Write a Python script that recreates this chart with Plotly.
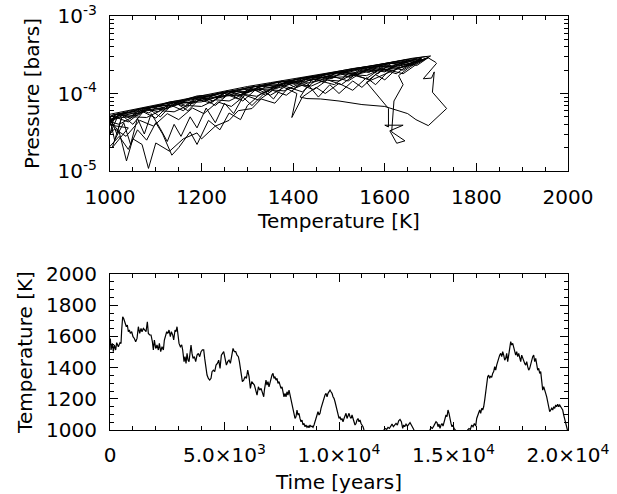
import plotly.graph_objects as go

# ---------------- bottom panel: temperature vs time ----------------
time_years = [
    15, 44, 102, 146, 190, 248, 292, 364, 437, 481, 510, 554, 597, 656, 714, 758, 801, 845, 889, 947,
    1005, 1063, 1122, 1180, 1238, 1296, 1354, 1398, 1456, 1515, 1573, 1631, 1675, 1733, 1791, 1850, 1893, 1937, 1995,
    2053, 2112, 2155, 2214, 2272, 2330, 2374, 2417, 2476, 2519, 2578, 2636, 2679, 2738, 2781, 2840, 2883, 2927, 2971,
    3014, 3073, 3131, 3174, 3233, 3276, 3320, 3364, 3407, 3451, 3495, 3538, 3582, 3626, 3684, 3742, 3801, 3859, 3917, 3975,
    4034, 4092, 4135, 4179, 4237, 4296, 4354, 4412, 4456, 4514, 4572, 4630, 4689, 4747, 4805, 4863, 4922, 4965,
    5024, 5082, 5140, 5198, 5257, 5315, 5373, 5431, 5490, 5548, 5606, 5650, 5693, 5737, 5781, 5839, 5897, 5955,
    6014, 6072, 6130, 6188, 6247, 6305, 6363, 6421, 6480, 6538, 6596, 6654, 6713, 6742,
    6768, 6812, 6856, 6899, 6943, 6987, 7030, 7074, 7118, 7162, 7205, 7249, 7293, 7336, 7380, 7424, 7467, 7511, 7555, 7598,
    7642, 7686, 7729, 7773, 7817, 7860, 7904, 7948, 7991, 8035, 8079, 8122, 8166, 8210, 8253, 8297, 8341, 8385, 8428, 8472,
    8516, 8559, 8603, 8647, 8690, 8734, 8778, 8821, 8865, 8909, 8952, 8996, 9040, 9083, 9127, 9171, 9214, 9258, 9302, 9346,
    9389, 9433, 9477, 9520, 9564, 9608, 9651, 9695, 9739, 9782, 9826, 9870, 9913, 9957, 10001, 10044, 10088, 10132, 10175, 10219,
    10263, 10306, 10350, 10394, 10438, 10481, 10525, 10569, 10612, 10656, 10700, 10743, 10787, 10831, 10874, 10918, 10962, 11005, 11049, 11093, 11136,
    11200, 11300, 11400, 11500, 11600, 11700, 11800, 11900,
    11966, 12025, 12083, 12141, 12199, 12258, 12316, 12374, 12432, 12490, 12549, 12607, 12665, 12723, 12782, 12825, 12869, 12927, 12986, 13044, 13102, 13160, 13218, 13277,
    13350, 13450, 13550, 13650, 13750, 13850, 13930,
    13974, 14018, 14076, 14134, 14193, 14236, 14280, 14324, 14367, 14411, 14455, 14498, 14542, 14586, 14629, 14673, 14717, 14760, 14804, 14848, 14891, 14935, 14979, 15023, 15066, 15139,
    15250, 15350, 15450, 15550,
    15619, 15678, 15736, 15794, 15852, 15911, 15969, 16013, 16056, 16100, 16144, 16187, 16231, 16275, 16318, 16362, 16406, 16449, 16493, 16537,
    16580, 16624, 16668, 16711, 16755, 16799, 16843, 16886, 16930, 16974, 17017, 17061, 17105, 17148, 17192, 17236, 17279, 17323, 17367, 17410,
    17454, 17498, 17541, 17585, 17629, 17672, 17716, 17760, 17803, 17847, 17891, 17935, 17978, 18022, 18066, 18109, 18153, 18197, 18240, 18284,
    18328, 18371, 18415, 18459, 18502, 18546, 18590, 18633, 18677, 18721, 18764, 18808, 18852, 18895, 18939, 18983, 19026, 19070, 19114, 19157,
    19201, 19245, 19289, 19332, 19376, 19420, 19463, 19507, 19551, 19594, 19638, 19682, 19725, 19769, 19813, 19856, 19900, 19944, 19973, 20000,
]
temperature_K = [
    1587, 1513, 1555, 1502, 1545, 1513, 1560, 1534, 1560, 1555, 1641, 1726, 1715, 1694, 1662, 1673, 1630, 1641, 1619, 1630,
    1598, 1587, 1566, 1587, 1662, 1619, 1651, 1630, 1651, 1641, 1630, 1694, 1619, 1609, 1609, 1566, 1513, 1577, 1523,
    1545, 1513, 1555, 1502, 1534, 1513, 1577, 1609, 1630, 1619, 1641, 1598, 1630, 1609, 1577, 1641, 1630, 1662, 1619,
    1555, 1534, 1545, 1513, 1438, 1470, 1427, 1491, 1448, 1438, 1480, 1545, 1491, 1459, 1470, 1438, 1480, 1491, 1470, 1502,
    1513, 1513, 1459, 1406, 1352, 1331, 1320, 1331, 1374, 1384, 1374, 1416, 1427, 1448, 1395, 1480, 1491, 1502,
    1459, 1416, 1438, 1448, 1427, 1480, 1523, 1502, 1502, 1480, 1470, 1438, 1384, 1331, 1310, 1320, 1342, 1331,
    1384, 1342, 1267, 1310, 1299, 1288, 1256, 1224, 1277, 1256, 1267, 1245, 1213, 1256,
    1299, 1320, 1288, 1310, 1277, 1310, 1331, 1352, 1363, 1331, 1342, 1320, 1331, 1299, 1310, 1288, 1267, 1277, 1245, 1213,
    1235, 1213, 1245, 1224, 1256, 1224, 1213, 1171, 1149, 1117, 1074, 1085, 1128, 1096, 1107, 1074, 1053, 1064, 1032, 1042,
    1021, 1032, 1017, 1025, 1015, 1032, 1021, 1025, 1017, 1032, 1053, 1074, 1096, 1117, 1096, 1107, 1139, 1160, 1192, 1213,
    1224, 1235, 1213, 1235, 1245, 1256, 1245, 1235, 1213, 1203, 1181, 1149, 1128, 1107, 1074, 1085, 1064, 1074, 1053, 1074,
    1096, 1107, 1074, 1096, 1107, 1085, 1074, 1096, 1064, 1053, 1032, 1042, 1064, 1074, 1053, 1064, 1042, 1032, 1021, 1000, 978,
    965, 950, 940, 955, 945, 960, 975, 985,
    1000, 1010, 1004, 1017, 1010, 1025, 1038, 1021, 1032, 1042, 1032, 1059, 1068, 1053, 1010, 1032, 1021, 1038, 1025, 1038, 1047, 1032, 1010, 1000,
    985, 970, 960, 972, 965, 980, 992,
    1000, 1017, 1010, 1025, 1042, 1053, 1047, 1021, 1038, 1010, 1032, 1042, 1025, 1053, 1074, 1096, 1085, 1128, 1107, 1064, 1042, 1021, 1032, 1010, 1000, 989,
    970, 958, 972, 985,
    1000, 1010, 1004, 1032, 1021, 1042, 1025, 1074, 1096, 1117, 1128, 1107, 1139, 1128, 1149, 1192, 1235, 1299, 1342, 1352,
    1331, 1346, 1337, 1363, 1374, 1406, 1384, 1416, 1448, 1459, 1480, 1491, 1470, 1502, 1480, 1448, 1459, 1491, 1438, 1470,
    1523, 1566, 1545, 1555, 1523, 1513, 1480, 1502, 1470, 1491, 1459, 1438, 1480, 1459, 1448, 1427, 1416, 1438, 1406, 1384,
    1395, 1427, 1459, 1470, 1480, 1438, 1459, 1416, 1384, 1395, 1363, 1374, 1310, 1256, 1277, 1245, 1235, 1213, 1171, 1139,
    1117, 1128, 1139, 1128, 1149, 1139, 1160, 1149, 1166, 1149, 1160, 1149, 1139, 1128, 1096, 1074, 1042, 1032, 1010, 985,
]

# ---------------- top panel: pressure vs temperature ----------------
pt_temperature = [
    1000, 1050, 1100, 1150, 1200, 1250, 1300, 1350, 1400, 1450, 1500, 1550, 1600, 1650, 1690,
    1710, 1713, 1684, 1702, 1708, 1704, 1735, 1695, 1668, 1650,
    1600, 1550, 1500, 1460, 1430, 1415,
    1440, 1480, 1520, 1560, 1600, 1640, 1670, 1695,
    1660, 1620, 1580, 1540, 1500, 1460, 1420, 1380, 1340, 1300, 1260, 1220, 1180, 1140, 1100, 1060, 1030, 1000,
    1020, 1036, 1050, 1070, 1084, 1100, 1130, 1160, 1190, 1200, 1230,
    1260, 1280, 1310, 1330, 1360, 1390, 1420, 1450, 1490, 1520, 1560, 1600, 1640, 1680,
    1560, 1608, 1608, 1600, 1640, 1611, 1626, 1644, 1615,
    1620, 1640, 1630, 1650, 1680,
    1640, 1600, 1560, 1520, 1480, 1440, 1400, 1360, 1320, 1280, 1240, 1200, 1160, 1120, 1080, 1040, 1000,
    1010, 1030, 1045, 1060, 1075, 1090, 1110, 1125, 1140, 1155, 1175, 1190, 1210, 1230, 1250, 1270, 1290, 1310, 1340, 1357, 1380,
    1420, 1460, 1500, 1540, 1580, 1620, 1660, 1700,
    1670, 1640, 1610, 1580, 1560, 1530, 1500, 1470, 1450, 1420, 1397, 1408, 1380, 1350, 1320, 1290, 1260, 1230, 1200, 1170, 1140, 1110, 1080, 1050, 1020, 1000,
    1010, 1040, 1070, 1100, 1130, 1160, 1190, 1220, 1250, 1280, 1310, 1340, 1370, 1400, 1430, 1460, 1490, 1520, 1550, 1580, 1610, 1640, 1670,
    1630, 1590, 1550, 1510, 1470, 1430, 1390, 1350, 1310, 1270, 1230, 1190, 1150, 1110, 1070, 1030, 1000,
    1015, 1025, 1005, 1040,
    990, 1030, 1060, 1090, 1120, 1150, 1180, 1210, 1240, 1270, 1300, 1330, 1360, 1390, 1420, 1450, 1480, 1510, 1540, 1570, 1600, 1630, 1660, 1690,
    1675, 1645, 1615, 1585, 1555, 1525, 1495, 1465, 1435, 1405, 1375, 1345, 1315, 1285, 1255, 1225, 1195, 1165, 1135, 1105, 1075, 1045, 1015, 985,
    980, 1010, 1035, 1065, 1095, 1125, 1150, 1180, 1205, 1235, 1265, 1295, 1325, 1355, 1385, 1415, 1445, 1475, 1505, 1535, 1565, 1595, 1625, 1655, 1685,
    1665, 1635, 1605, 1575, 1545, 1515, 1485, 1455, 1425, 1395, 1365, 1335, 1305, 1275, 1245, 1215, 1185, 1155, 1125, 1095, 1065, 1035, 1005, 975,
    990, 1020, 1040, 1060, 1080, 1100, 1115, 1135, 1150, 1175, 1190, 1215, 1240, 1260, 1285, 1300, 1330, 1370, 1410, 1450, 1490, 1530, 1570, 1610, 1650,
    1630, 1600, 1580, 1550, 1530, 1500, 1480, 1455, 1430, 1400, 1370, 1340, 1310, 1280, 1250, 1220, 1190, 1160, 1130, 1100, 1070, 1040, 1010, 970,
    1000, 1040, 1080, 1120, 1160, 1200, 1240, 1280, 1320, 1360, 1400, 1440, 1480, 1520, 1560, 1600, 1640, 1680,
    1650, 1620, 1590, 1560, 1530, 1500, 1470, 1440, 1410, 1380, 1350, 1320, 1290, 1260, 1230, 1200, 1170, 1140, 1110, 1080, 1050, 1020, 990,
    1005, 1025, 1045, 1065, 1085, 1105, 1125, 1145, 1165, 1185, 1205, 1225, 1245, 1265, 1285, 1305, 1325, 1345, 1365, 1385, 1405, 1425, 1445, 1465, 1485, 1505, 1525, 1545, 1565, 1585, 1605, 1625, 1645, 1665,
    1640, 1615, 1590, 1565, 1540, 1515, 1490, 1465, 1440, 1415, 1390, 1365, 1340, 1315, 1290, 1265, 1240, 1215, 1190, 1165, 1140, 1115, 1090, 1065, 1040, 1015, 985,
]
pt_pressure_bars = [
    5.4e-5, 6.2e-5, 7.2e-5, 8.3e-5, 9.5e-5, 1.08e-4, 1.23e-4, 1.38e-4, 1.55e-4, 1.74e-4, 1.95e-4, 2.18e-4, 2.45e-4, 2.72e-4, 3.0e-4,
    2.55e-4, 2.45e-4, 1.55e-4, 1.58e-4, 1.9e-4, 1.04e-4, 6.4e-5, 3.85e-5, 4.6e-5, 5.5e-5,
    6.8e-5, 7.2e-5, 8.0e-5, 8.5e-5, 8.6e-5, 9.0e-5,
    1.5e-4, 1.7e-4, 1.45e-4, 2.05e-4, 1.9e-4, 2.55e-4, 2.3e-4, 2.9e-4,
    2.5e-4, 2.2e-4, 2.25e-4, 1.8e-4, 1.9e-4, 1.5e-4, 1.55e-4, 1.25e-4, 1.3e-4, 1.05e-4, 1.06e-4, 8.5e-5, 8.8e-5, 7.0e-5, 7.0e-5, 5.5e-5, 5.7e-5, 4.5e-5,
    3.2e-5, 1.35e-5, 2.6e-5, 2.2e-5, 1.08e-5, 2.3e-5, 1.8e-5, 2.6e-5, 3.1e-5, 2.6e-5, 3.8e-5,
    4.5e-5, 6.0e-5, 6.4e-5, 8.5e-5, 7.5e-5, 1.2e-4, 1.05e-4, 1.5e-4, 1.3e-4, 1.8e-4, 1.55e-4, 2.3e-4, 2.0e-4, 2.85e-4,
    1.4e-4, 6.4e-5, 3.7e-5, 3.9e-5, 3.9e-5, 3.3e-5, 2.28e-5, 2.45e-5, 3.2e-5,
    8.0e-5, 1.3e-4, 1.7e-4, 2.1e-4, 2.75e-4,
    2.2e-4, 2.05e-4, 1.9e-4, 1.65e-4, 1.6e-4, 1.38e-4, 1.35e-4, 1.15e-4, 1.12e-4, 9.5e-5, 9.2e-5, 7.8e-5, 7.6e-5, 6.3e-5, 6.0e-5, 5.0e-5, 4.7e-5,
    2.5e-5, 4.2e-5, 2.2e-5, 4.8e-5, 3.0e-5, 5.5e-5, 3.5e-5, 2.4e-5, 4.0e-5, 2.8e-5, 5.0e-5, 3.6e-5, 6.5e-5, 4.2e-5, 7.5e-5, 5.5e-5, 9.0e-5, 7.0e-5, 1.05e-4, 8.5e-5, 1.3e-4,
    1.5e-4, 1.72e-4, 1.88e-4, 2.12e-4, 2.32e-4, 2.6e-4, 2.85e-4, 3.05e-4,
    2.4e-4, 1.8e-4, 2.0e-4, 1.3e-4, 1.6e-4, 1.1e-4, 1.35e-4, 1.0e-4, 1.2e-4, 9.0e-5, 4.9e-5, 1.0e-4, 1.2e-4, 9.5e-5, 1.15e-4, 8.0e-5, 1.0e-4, 7.0e-5, 9.0e-5, 6.0e-5, 7.8e-5, 5.0e-5, 6.6e-5, 4.0e-5, 5.6e-5, 3.0e-5,
    5.3e-5, 5.6e-5, 6.4e-5, 6.8e-5, 7.8e-5, 8.2e-5, 9.3e-5, 9.6e-5, 1.05e-4, 1.12e-4, 1.22e-4, 1.3e-4, 1.42e-4, 1.48e-4, 1.62e-4, 1.68e-4, 1.85e-4, 1.95e-4, 2.1e-4, 2.2e-4, 2.45e-4, 2.55e-4, 2.8e-4,
    2.3e-4, 2.1e-4, 1.95e-4, 1.75e-4, 1.62e-4, 1.45e-4, 1.38e-4, 1.2e-4, 1.12e-4, 9.8e-5, 9.0e-5, 8.0e-5, 7.4e-5, 6.5e-5, 6.0e-5, 5.2e-5, 5.0e-5,
    3.0e-5, 4.8e-5, 2.0e-5, 3.6e-5,
    4.0e-5, 5.3e-5, 5.2e-5, 6.6e-5, 6.3e-5, 7.8e-5, 7.4e-5, 9.1e-5, 8.8e-5, 1.07e-4, 1.02e-4, 1.25e-4, 1.18e-4, 1.43e-4, 1.35e-4, 1.65e-4, 1.55e-4, 1.88e-4, 1.75e-4, 2.15e-4, 1.95e-4, 2.45e-4, 2.3e-4, 2.85e-4,
    2.6e-4, 2.2e-4, 2.5e-4, 1.8e-4, 2.15e-4, 1.6e-4, 1.9e-4, 1.4e-4, 1.65e-4, 1.2e-4, 1.45e-4, 1.05e-4, 1.25e-4, 9.2e-5, 1.08e-4, 8.0e-5, 9.2e-5, 6.8e-5, 7.7e-5, 5.8e-5, 6.5e-5, 4.8e-5, 5.5e-5, 3.5e-5,
    2.2e-5, 3.5e-5, 2.8e-5, 4.5e-5, 3.8e-5, 5.5e-5, 4.6e-5, 6.5e-5, 5.5e-5, 7.8e-5, 6.8e-5, 9.5e-5, 8.2e-5, 1.1e-4, 9.5e-5, 1.3e-4, 1.12e-4, 1.5e-4, 1.3e-4, 1.75e-4, 1.5e-4, 2.05e-4, 1.8e-4, 2.4e-4, 2.7e-4,
    2.72e-4, 2.5e-4, 2.4e-4, 2.18e-4, 2.1e-4, 1.9e-4, 1.83e-4, 1.65e-4, 1.6e-4, 1.45e-4, 1.4e-4, 1.25e-4, 1.21e-4, 1.08e-4, 1.03e-4, 9.2e-5, 8.9e-5, 7.9e-5, 7.5e-5, 6.6e-5, 6.3e-5, 5.6e-5, 5.3e-5, 3.0e-5,
    1.8e-5, 2.8e-5, 1.9e-5, 3.4e-5, 2.5e-5, 4.2e-5, 3.0e-5, 1.6e-5, 2.0e-5, 3.2e-5, 2.2e-5, 4.5e-5, 3.4e-5, 5.6e-5, 4.6e-5, 7.0e-5, 1.0e-4, 1.3e-4, 1.55e-4, 1.7e-4, 1.9e-4, 2.1e-4, 2.25e-4, 2.5e-4, 2.75e-4,
    2.2e-4, 1.5e-4, 1.75e-4, 1.2e-4, 1.45e-4, 1.0e-4, 1.3e-4, 9.0e-5, 1.35e-4, 1.15e-4, 1.3e-4, 9.5e-5, 1.15e-4, 8.5e-5, 1.0e-4, 7.5e-5, 8.5e-5, 6.0e-5, 7.2e-5, 4.8e-5, 5.9e-5, 4.3e-5, 5.0e-5, 2.5e-5,
    5.1e-5, 5.9e-5, 6.6e-5, 7.3e-5, 8.2e-5, 9.1e-5, 1.0e-4, 1.12e-4, 1.24e-4, 1.35e-4, 1.5e-4, 1.65e-4, 1.78e-4, 1.95e-4, 2.12e-4, 2.35e-4, 2.55e-4, 2.85e-4,
    2.3e-4, 2.0e-4, 2.05e-4, 1.7e-4, 1.75e-4, 1.45e-4, 1.5e-4, 1.25e-4, 1.3e-4, 1.08e-4, 1.12e-4, 9.2e-5, 9.8e-5, 8.0e-5, 8.3e-5, 6.8e-5, 7.0e-5, 5.8e-5, 6.0e-5, 4.9e-5, 5.0e-5, 4.0e-5, 4.5e-5,
    4.6e-5, 5.4e-5, 5.0e-5, 6.2e-5, 5.6e-5, 6.9e-5, 6.3e-5, 7.8e-5, 7.0e-5, 8.6e-5, 7.9e-5, 9.5e-5, 8.7e-5, 1.06e-4, 9.6e-5, 1.17e-4, 1.07e-4, 1.29e-4, 1.18e-4, 1.42e-4, 1.3e-4, 1.55e-4, 1.42e-4, 1.7e-4, 1.56e-4, 1.85e-4, 1.7e-4, 2.02e-4, 1.86e-4, 2.2e-4, 2.02e-4, 2.4e-4, 2.2e-4, 2.65e-4,
    2.45e-4, 2.3e-4, 2.25e-4, 2.05e-4, 2.0e-4, 1.85e-4, 1.78e-4, 1.62e-4, 1.6e-4, 1.45e-4, 1.42e-4, 1.3e-4, 1.27e-4, 1.15e-4, 1.12e-4, 1.02e-4, 9.9e-5, 9.0e-5, 8.7e-5, 7.9e-5, 7.6e-5, 6.9e-5, 6.6e-5, 6.0e-5, 5.7e-5, 5.1e-5, 3.2e-5,
]

# tick labels
p_tickvals = [1e-5, 1e-4, 1e-3]
p_ticktext = ["10<sup>-5</sup>", "10<sup>-4</sup>", "10<sup>-3</sup>"]
p_minor = [m * 10 ** e for e in (-5, -4) for m in range(2, 10)]
t_tickvals = [1000, 1200, 1400, 1600, 1800, 2000]
time_tickvals = [0, 5000, 10000, 15000, 20000]
time_ticktext = ["0", "5.0×10<sup>3</sup>", "1.0×10<sup>4</sup>", "1.5×10<sup>4</sup>", "2.0×10<sup>4</sup>"]

FONT = dict(family="DejaVu Sans", size=20, color="black")

fig = go.Figure()
fig.add_trace(go.Scatter(x=pt_temperature, y=pt_pressure_bars, mode="lines",
                         line=dict(color="black", width=1), xaxis="x", yaxis="y",
                         showlegend=False, hoverinfo="skip"))
fig.add_trace(go.Scatter(x=time_years, y=temperature_K, mode="lines",
                         line=dict(color="black", width=1.2), xaxis="x2", yaxis="y2",
                         showlegend=False, hoverinfo="skip"))

axis_common = dict(showline=True, linecolor="black", linewidth=1, mirror="ticks",
                   ticks="inside", ticklen=8, tickwidth=1, tickcolor="black",
                   showgrid=False, zeroline=False, tickfont=FONT, automargin=False)

fig.update_layout(
    width=617, height=494,
    margin=dict(l=110, r=49, t=16, b=64),
    paper_bgcolor="white", plot_bgcolor="white",
    font=FONT,
    xaxis=dict(domain=[0, 1], anchor="y", range=[1000, 2000], tickvals=t_tickvals,
               minor=dict(dtick=50, ticks="inside", ticklen=4, tickcolor="black"),
               ticklabelstandoff=8,
               title=dict(text="Temperature [K]", font=FONT, standoff=4), **axis_common),
    yaxis=dict(domain=[0.6256, 1], anchor="x", type="log", range=[-5, -3],
               tickvals=p_tickvals, ticktext=p_ticktext,
               minor=dict(tickvals=p_minor, ticks="inside", ticklen=4, tickcolor="black"),
               ticklabelstandoff=8,
               title=dict(text="Pressure [bars]", font=FONT, standoff=12), **axis_common),
    xaxis2=dict(domain=[0, 1], anchor="y2", range=[0, 20000], tickvals=time_tickvals,
                ticktext=time_ticktext,
                minor=dict(dtick=1000, ticks="inside", ticklen=4, tickcolor="black"),
                ticklabelstandoff=7,
                title=dict(text="Time [years]", font=FONT, standoff=11), **axis_common),
    yaxis2=dict(domain=[0, 0.3768], anchor="x2", range=[1000, 2000], tickvals=t_tickvals,
                minor=dict(dtick=50, ticks="inside", ticklen=4, tickcolor="black"),
                ticklabelstandoff=8,
                title=dict(text="Temperature [K]", font=FONT, standoff=8), **axis_common),
)

fig.write_html("out.html")
